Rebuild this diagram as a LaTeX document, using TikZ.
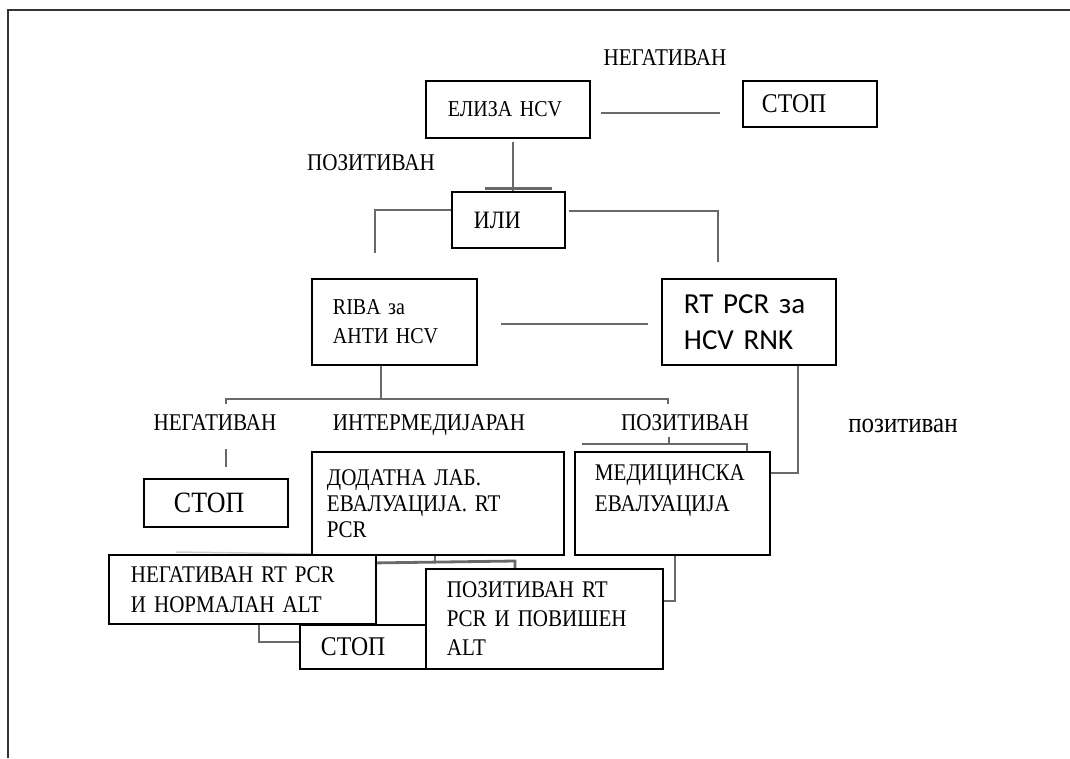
\documentclass[tikz,border=0pt]{standalone}
\usepackage{fontspec}
\setmainfont{Liberation Serif}[FakeStretch=0.88]
\newfontfamily\calibrifont{Carlito}
\usetikzlibrary{backgrounds}
\definecolor{linkgray}{RGB}{105,105,105}
\tikzset{
	box/.style={draw, line width=1.9pt, fill=white, anchor=north west, inner sep=0pt, align=left},
	link/.style={draw=linkgray, line width=2.8pt},
	lbl/.style={anchor=base, inner sep=0pt, font=\fontsize{24}{28}\selectfont},
}
\begin{document}
\begin{tikzpicture}[x=1pt, y=-1pt]
	\useasboundingbox (0,0) rectangle (1070,758);
	\draw[line width=1.6pt, draw=black!80] (8,758) -- (8,10) -- (1070,10);
	% boxes
	\node[box, minimum width=164pt, minimum height=57pt, text width=120pt, inner xsep=22pt, font=\fontsize{22.7}{26}\selectfont] (elisa) at (425,80) {ЕЛИЗА HCV};
	\node[box, minimum width=134pt, minimum height=46pt, text width=96pt, inner xsep=19pt, font=\fontsize{27}{30}\selectfont] (stopA) at (742,80) {СТОП};
	\node[box, minimum width=113pt, minimum height=56pt, text width=69pt, inner xsep=22pt, font=\fontsize{25}{28}\selectfont] (ili) at (451,191) {ИЛИ};
	\node[box, minimum width=165pt, minimum height=86pt, text width=123pt, inner xsep=21pt, font=\fontsize{22.7}{29}\selectfont] (riba) at (311,278) {RIBA за\\АНТИ HCV};
	\node[box, minimum width=174pt, minimum height=86pt, text width=130pt, inner xsep=22pt, font=\calibrifont\fontsize{29}{36}\selectfont] (rtpcr) at (661,278) {RT PCR за\\HCV RNK};
	\node[box, minimum width=144pt, minimum height=48pt, text width=84pt, inner xsep=30pt, font=\fontsize{29.5}{32}\selectfont] (stopB) at (143,478) {СТОП};
	\node[box, minimum width=252pt, minimum height=103pt, text width=222pt, inner xsep=15pt, font=\fontsize{23.9}{26}\selectfont] (dodatna) at (311,451) {ДОДАТНА ЛАБ.\\ЕВАЛУАЦИЈА. RT\\PCR};
	\node[box, minimum width=195pt, minimum height=103pt, text width=155pt, inner xsep=20pt, font=\fontsize{23.9}{31}\selectfont] (med) at (574,451) {МЕДИЦИНСКА\\ЕВАЛУАЦИЈА\\\mbox{}};
	\node[box, minimum width=267pt, minimum height=69pt, text width=223pt, inner xsep=22pt, font=\fontsize{23.9}{30}\selectfont] (negrt) at (108,554) {НЕГАТИВАН RT PCR\\И НОРМАЛАН ALT};
	\node[box, minimum width=126pt, minimum height=44pt, text width=84pt, inner xsep=21pt, font=\fontsize{27}{30}\selectfont] (stopC) at (299,624) {СТОП};
	\node[box, minimum width=237pt, minimum height=100pt, text width=195pt, inner xsep=21pt, font=\fontsize{23.9}{29}\selectfont] (posrt) at (425,568) {ПОЗИТИВАН RT\\PCR И ПОВИШЕН\\ALT};
	% labels
	\node[lbl] (lnegtop) at (665,65.5) {НЕГАТИВАН};
	\node[lbl] (lpostop) at (371,170) {ПОЗИТИВАН};
	\node[lbl] (lneg) at (215,430) {НЕГАТИВАН};
	\node[lbl] (linter) at (429,430) {ИНТЕРМЕДИЈАРАН};
	\node[lbl] (lpos) at (685,430) {ПОЗИТИВАН};
	\node[lbl, font=\fontsize{28.4}{32}\selectfont] (lposr) at (903,432) {позитиван};
	% connectors
	\begin{scope}[on background layer]
		\draw[link] ([xshift=10pt,yshift=-3.5pt]elisa.east) -- ([xshift=-22pt,yshift=-9pt]stopA.west);
		\draw[link] ([xshift=5pt,yshift=-3pt]elisa.south) -- ([xshift=4.5pt]ili.north);
		\draw[link] ([xshift=-23.5pt,yshift=2.5pt]ili.north) -- ([xshift=43.5pt,yshift=2.5pt]ili.north);
		\draw[link] ([yshift=10pt]ili.west) -| ([xshift=-19.5pt,yshift=25pt]riba.north);
		\draw[link] ([xshift=3pt,yshift=9pt]ili.east) -| ([xshift=-31pt,yshift=16pt]rtpcr.north);
		\draw[link] ([xshift=23pt,yshift=-2pt]riba.east) -- ([xshift=-13pt,yshift=-2pt]rtpcr.west);
		\draw[link] ([xshift=-13.5pt]riba.south) -- ++(0,33) coordinate (split);
		\draw[link] ([xshift=10pt]stopB.north |- split) ++(0,5) -- ++(0,-5) -- ([xshift=-17pt]lpos.north |- split) -- ++(0,5);
		\draw[link] ([xshift=10pt,yshift=29pt]stopB.north) -- ([xshift=10pt,yshift=11pt]stopB.north);
		\draw[link] ([xshift=-3.5pt,yshift=14pt]med.north) -- ([xshift=-3.5pt,yshift=7pt]med.north);
		\draw[link] ([xshift=-90.5pt,yshift=7pt]med.north) -- ([xshift=74.5pt,yshift=7pt]med.north) -- ([xshift=74.5pt]med.north);
		\draw[link] ([xshift=49pt]rtpcr.south) |- ([yshift=30.5pt]med.east);
		\draw[link] ([xshift=-3pt]dodatna.south) -- ++(0,7);
		\draw[link] ([yshift=-7pt]dodatna.south -| negrt.east) -- ([xshift=-29.5pt,yshift=7pt]posrt.north) -- ([xshift=-29.5pt]posrt.north);
		\draw[link, draw=gray!40, line width=1.5pt] ([xshift=-66.5pt,yshift=2pt]negrt.north) -- ([yshift=2pt]dodatna.south west);
		\draw[link] ([xshift=16.5pt]negrt.south) |- ([yshift=5pt]stopC.west);
		\draw[link] ([xshift=2.5pt]med.south) |- ([yshift=18pt]posrt.east);
	\end{scope}
\end{tikzpicture}
\end{document}
